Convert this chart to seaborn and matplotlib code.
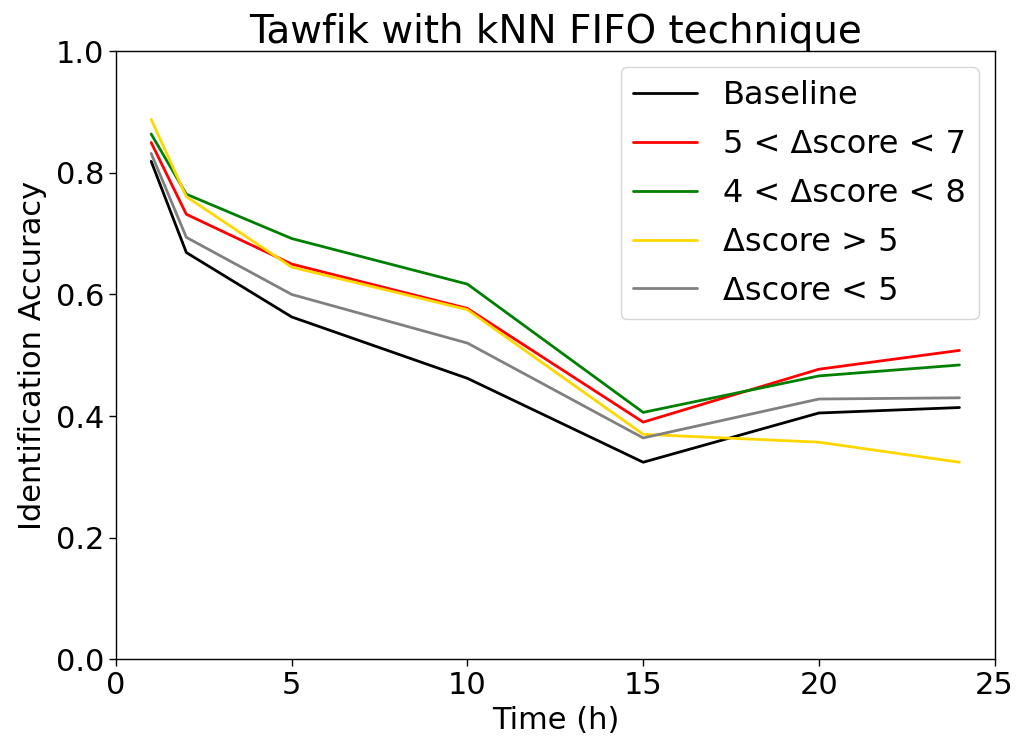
import matplotlib
matplotlib.use("Agg")
import matplotlib.pyplot as plt
import seaborn as sns
import pandas as pd

sns.set_style("ticks")
plt.rcParams['font.family'] = ['DejaVu Sans']
plt.rcParams.update({
    "text.color": "black",
    "axes.labelcolor": "black",
    "xtick.color": "black",
    "ytick.color": "black",
    "axes.edgecolor": "black",
})

hours = [1, 2, 5, 10, 15, 20, 24]
baseline = [0.819, 0.669, 0.563, 0.462, 0.324, 0.405, 0.414]
score_5_7 = [0.850, 0.732, 0.650, 0.577, 0.390, 0.477, 0.508]
score_4_8 = [0.864, 0.765, 0.692, 0.617, 0.406, 0.466, 0.484]
score_gt5 = [0.888, 0.761, 0.645, 0.575, 0.370, 0.357, 0.324]
score_lt5 = [0.832, 0.694, 0.600, 0.520, 0.364, 0.428, 0.430]

labels = ["Baseline", "5 < Δscore < 7", "4 < Δscore < 8", "Δscore > 5", "Δscore < 5"]
colors = ["black", "red", "green", "gold", "gray"]

series = [baseline, score_5_7, score_4_8, score_gt5, score_lt5]
df = pd.DataFrame({
    "Time (h)": hours * len(labels),
    "Accuracy": [v for s in series for v in s],
    "Method": [lab for lab in labels for _ in hours],
})

fig = plt.figure(figsize=(10.18, 7.44), dpi=100)
ax = fig.add_axes([0.114, 0.114, 0.863, 0.817])
sns.lineplot(data=df, x="Time (h)", y="Accuracy", hue="Method",
             hue_order=labels, palette=colors, linewidth=2, ax=ax)

ax.set_xlim(0, 25)
ax.set_ylim(0, 1.0)
ax.set_xticks([0, 5, 10, 15, 20, 25])
ax.set_yticks([0.0, 0.2, 0.4, 0.6, 0.8, 1.0])
ax.tick_params(labelsize=22, length=5, width=1, color="black")
for sp in ax.spines.values():
    sp.set_color("black")
    sp.set_linewidth(1)
ax.set_xlabel("Time (h)", fontsize=22, labelpad=4)
ax.set_ylabel("Identification Accuracy", fontsize=22, labelpad=6)
ax.set_title("Tawfik with kNN FIFO technique", fontsize=28)
ax.legend(loc="upper right", fontsize=23, frameon=True, handlelength=2,
          labelspacing=0.56)

fig.savefig("out.png", dpi=100)
